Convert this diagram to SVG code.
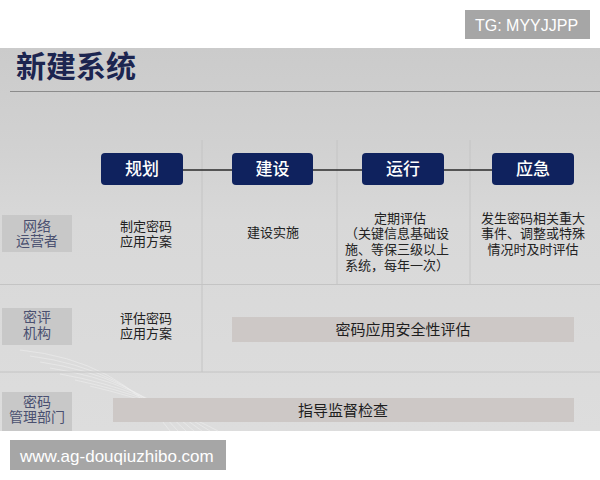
<svg xmlns="http://www.w3.org/2000/svg" width="600" height="480" viewBox="0 0 600 480">
<defs>
<linearGradient id="bg" x1="0" y1="48" x2="0" y2="431" gradientUnits="userSpaceOnUse">
<stop offset="0" stop-color="#cbcbcb"/>
<stop offset="0.25" stop-color="#d1d1d1"/>
<stop offset="0.45" stop-color="#d8d8d8"/>
<stop offset="1" stop-color="#dddddd"/>
</linearGradient>
<style>
.cjk{font-family:"Noto Sans CJK SC","Noto Sans",sans-serif}
.title{font-size:30px;font-weight:bold;fill:#1c2550}
.phase rect{fill:#0f225e}
.phase text{font-size:17px;fill:#ffffff;font-weight:500;text-anchor:middle}
.role rect{fill:#c8c8c8}
.role text{font-size:14px;fill:#4a5070;text-anchor:middle}
.body{font-size:13px;fill:#222222;text-anchor:middle}
.bar rect{fill:#cdc8c6}
.bar text{font-size:15px;fill:#1e1e1e;text-anchor:middle}
.div{stroke:#c4c4c4;stroke-width:1}
.conn line{stroke:#2a2a2a;stroke-width:1.6}
.wave{fill:none;stroke:#eeeeee;stroke-width:0.8;opacity:0.7}
.wm rect{fill:#a6a6a6}
.wm text{font-family:"Liberation Sans",Arial,sans-serif;fill:#ffffff}
</style>
</defs>
<rect x="0" y="0" width="600" height="480" fill="#ffffff"/>
<rect x="0" y="48" width="600" height="383" fill="url(#bg)"/>
<g id="waves">
<path class="wave" d="M20 350 Q120 360 170 431"/>
<path class="wave" d="M30 356 Q125 368 178 431"/>
<path class="wave" d="M40 362 Q132 375 186 431"/>
<path class="wave" d="M50 368 Q140 382 194 431"/>
<path class="wave" d="M60 374 Q150 390 202 431"/>
<path class="wave" d="M75 380 Q160 398 210 431"/>
<path class="wave" d="M90 386 Q170 405 218 431"/>
</g>
<text class="cjk title" x="16" y="77">新建系统</text>
<line x1="10" y1="91.5" x2="600" y2="91.5" stroke="#8c8c8c" stroke-width="1.2"/>

<g id="dividers">
<line class="div" x1="202" y1="140" x2="202" y2="372"/>
<line class="div" x1="337" y1="140" x2="337" y2="284"/>
<line class="div" x1="470" y1="140" x2="470" y2="284"/>
<line class="div" x1="0" y1="284.5" x2="600" y2="284.5"/>
<line class="div" x1="0" y1="372" x2="600" y2="372"/>
</g>

<g id="connectors" class="conn">
<line x1="183" y1="170" x2="232" y2="170"/>
<line x1="313" y1="170" x2="362" y2="170"/>
<line x1="444" y1="170" x2="492" y2="170"/>
</g>

<g id="phase-plan" class="phase cjk">
<rect x="101" y="153" width="82" height="32" rx="4"/>
<text x="142" y="175">规划</text>
</g>
<g id="phase-build" class="phase cjk">
<rect x="232" y="153" width="81" height="32" rx="4"/>
<text x="272.5" y="175">建设</text>
</g>
<g id="phase-run" class="phase cjk">
<rect x="362" y="153" width="82" height="32" rx="4"/>
<text x="403" y="175">运行</text>
</g>
<g id="phase-emergency" class="phase cjk">
<rect x="492" y="153" width="82" height="32" rx="4"/>
<text x="533" y="175">应急</text>
</g>

<g id="role-operator" class="role cjk">
<rect x="2" y="215" width="70" height="37"/>
<text x="37" y="230.5">网络<tspan x="37" dy="15.5">运营者</tspan></text>
</g>
<g id="role-assessor" class="role cjk">
<rect x="2" y="308" width="70" height="37"/>
<text x="37" y="322">密评<tspan x="37" dy="16">机构</tspan></text>
</g>
<g id="role-admin" class="role cjk">
<rect x="2" y="392" width="70" height="39"/>
<text x="37" y="406.5">密码<tspan x="37" dy="15.5">管理部门</tspan></text>
</g>

<g id="cell-plan-op" class="cjk">
<text class="body" x="146" y="230.5">制定密码<tspan x="146" dy="15.5">应用方案</tspan></text>
</g>
<g id="cell-build-op" class="cjk">
<text class="body" x="273" y="236.5">建设实施</text>
</g>
<g id="cell-run-op" class="cjk">
<text class="body" x="400" y="222.5">定期评估<tspan x="397" dy="15.7">（关键信息基础设</tspan><tspan x="397" dy="15.7">施、等保三级以上</tspan><tspan x="397" dy="15.7">系统，每年一次）</tspan></text>
</g>
<g id="cell-emg-op" class="cjk">
<text class="body" x="533" y="222.5">发生密码相关重大<tspan x="533" dy="15.7">事件、调整或特殊</tspan><tspan x="533" dy="15.7">情况时及时评估</tspan></text>
</g>
<g id="cell-plan-as" class="cjk">
<text class="body" x="146" y="322.5">评估密码<tspan x="146" dy="15.5">应用方案</tspan></text>
</g>
<g id="bar-assess" class="bar cjk">
<rect x="232" y="317" width="342" height="25"/>
<text x="403" y="335">密码应用安全性评估</text>
</g>
<g id="bar-supervise" class="bar cjk">
<rect x="113" y="398" width="461" height="24"/>
<text x="343" y="415.5">指导监督检查</text>
</g>

<g id="wm-top" class="wm">
<rect x="465" y="10" width="125" height="29"/>
<text x="475" y="31" font-size="16">TG: MYYJJPP</text>
</g>
<g id="wm-bottom" class="wm">
<rect x="10" y="440" width="216" height="30"/>
<text x="20" y="461.5" font-size="17">www.ag-douqiuzhibo.com</text>
</g>
</svg>
